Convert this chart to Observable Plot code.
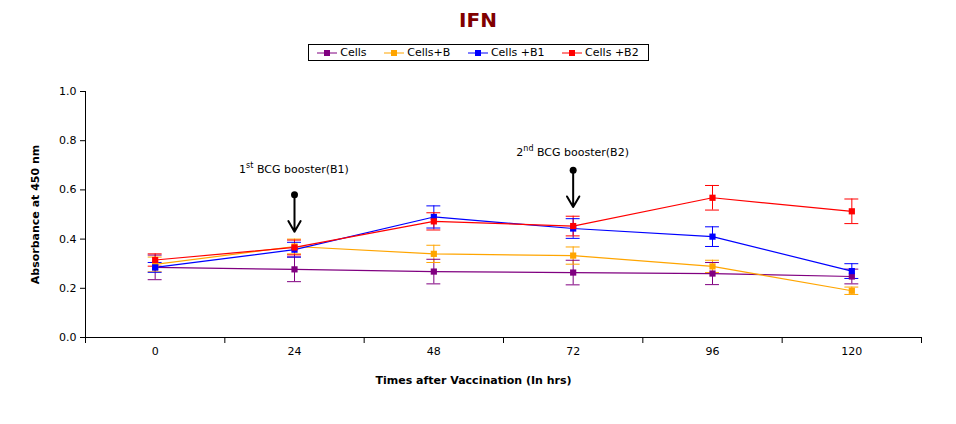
<!DOCTYPE html>
<html><head><meta charset="utf-8">
<script src="https://cdn.jsdelivr.net/npm/d3@7"></script>
<script src="https://cdn.jsdelivr.net/npm/@observablehq/plot@0.6"></script>
<style>
body{margin:0;background:#fff;font-family:"DejaVu Sans",sans-serif;}
#title{height:36px;line-height:40px;text-align:center;font-weight:bold;font-size:20px;color:#800000;}
#legend{margin:8px auto 0;width:341px;height:17px;border:1px solid #000;font-size:11px;display:flex;align-items:center;justify-content:space-around;box-sizing:border-box;}
#legend span{display:inline-flex;align-items:center;gap:3px}
#wrap{height:19px}
</style></head><body>
<div id="title">IFN</div>
<div id="legend"></div>
<div id="wrap"></div>
<div id="chart"></div>
<script>
const hours = [0,24,48,72,96,120];
const seriesNames = ["Cells","Cells+B","Cells +B1","Cells +B2"];
const colors = ["#800080","#FFA500","#0000FF","#FF0000"];
const cells   = [0.285,0.277,0.268,0.264,0.260,0.248];
const cellsB  = [0.297,0.370,0.340,0.333,0.289,0.190];
const cellsB1 = [0.285,0.357,0.490,0.443,0.410,0.270];
const cellsB2 = [0.315,0.366,0.472,0.453,0.568,0.513];
const errCells   = [0.050,0.050,0.050,0.050,0.045,0.030];
const errCellsB  = [0.030,0.030,0.035,0.035,0.025,0.015];
const errCellsB1 = [0.020,0.030,0.045,0.040,0.040,0.030];
const errCellsB2 = [0.025,0.030,0.035,0.040,0.050,0.050];
const boosters = [{x:24,y1:0.58,y2:0.43,ty:0.665,lab:"st",n:"1",txt:" BCG booster(B1)"},{x:72,y1:0.68,y2:0.53,ty:0.735,lab:"nd",n:"2",txt:" BCG booster(B2)"}];

const vals=[cells,cellsB,cellsB1,cellsB2], errs=[errCells,errCellsB,errCellsB1,errCellsB2];
const data=[];
seriesNames.forEach((s,i)=>hours.forEach((h,j)=>data.push({s,h,v:vals[i][j],e:errs[i][j]})));

const lg=document.getElementById("legend");
seriesNames.forEach((s,i)=>{lg.innerHTML+=`<span><svg width="20" height="8"><line x1="0" x2="20" y1="4" y2="4" stroke="${colors[i]}"/><rect x="7" y="1" width="6" height="6" fill="${colors[i]}"/></svg>${s}</span>`;});

const cap=[];
data.forEach(d=>{cap.push({s:d.s,h:d.h,y:d.v-d.e});cap.push({s:d.s,h:d.h,y:d.v+d.e});});

const chart=Plot.plot({
  width:956,height:344,marginLeft:85,marginRight:35,marginTop:11,marginBottom:87,
  style:{fontFamily:"DejaVu Sans, sans-serif",fontSize:"11px"},
  x:{type:"linear",domain:[-12,132],axis:null},
  y:{domain:[0,1],axis:null},
  color:{domain:seriesNames,range:colors},
  marks:[
    Plot.axisY({ticks:d3.range(0,1.01,0.2),tickFormat:".1f",tickSize:5,label:null}),
    Plot.axisX({ticks:[-12,12,36,60,84,108,132],tickSize:6,tickFormat:()=>""}),
    Plot.axisX({ticks:hours,tickSize:0,tickPadding:10,label:null}),
    Plot.ruleX([-12],{x:d=>d,stroke:"#000"}),
    Plot.ruleY([0],{y:d=>d,stroke:"#000"}),
    Plot.text(["Absorbance at 450 nm"],{x:-12,y:0.5,dx:-50,rotate:-90,text:d=>d,fontWeight:"bold",fontSize:11}),
    Plot.text(["Times after Vaccination (In hrs)"],{x:60,y:0,dy:43,dx:-30,text:d=>d,fontWeight:"bold",fontSize:11}),
    Plot.ruleX(data,{x:"h",y1:d=>d.v-d.e,y2:d=>d.v+d.e,stroke:"s"}),
    Plot.ruleY(cap,{x1:d=>d.h-1.2,x2:d=>d.h+1.2,y:"y",stroke:"s"}),
    Plot.line(data,{x:"h",y:"v",z:"s",stroke:"s",strokeWidth:1.2}),
    Plot.dot(data,{x:"h",y:"v",fill:"s",symbol:"square",r:3.5}),
    Plot.arrow(boosters,{x1:"x",x2:"x",y1:"y1",y2:"y2",stroke:"#000",strokeWidth:2,headLength:10}),
    Plot.dot(boosters,{x:"x",y:"y1",fill:"#000",r:3.5})
  ]
});
document.getElementById("chart").append(chart);
const svg=d3.select(chart);
const xs=d3.scaleLinear([-12,132],[85,921]), ys=d3.scaleLinear([0,1],[257,11]);
boosters.forEach(b=>{
  const t=svg.append("text").attr("x",xs(b.x)).attr("y",ys(b.ty)).attr("text-anchor","middle").attr("font-size",11).attr("font-family","DejaVu Sans, sans-serif");
  t.append("tspan").text(b.n);
  t.append("tspan").attr("dy",-5).attr("font-size",8).text(b.lab);
  t.append("tspan").attr("dy",5).text(b.txt);
});
</script>
</body></html>
